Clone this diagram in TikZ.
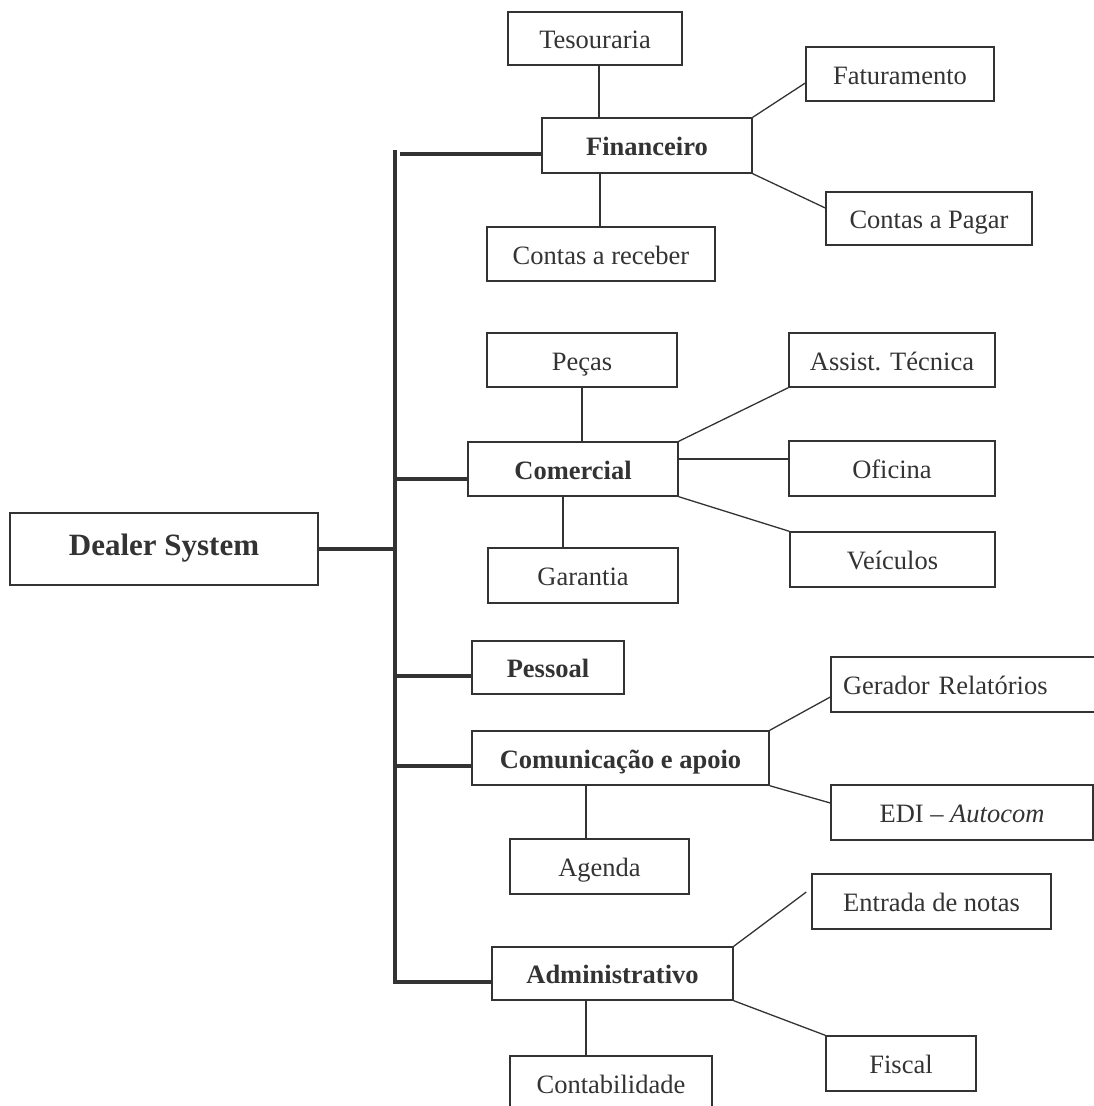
\documentclass[tikz,border=0pt]{standalone}
\usepackage{fontspec}
\setmainfont{Liberation Serif}
\usetikzlibrary{calc}
\definecolor{ink}{HTML}{333333}
\begin{document}
\begin{tikzpicture}[x=1pt,y=-1pt,
  box/.style={draw=ink,line width=1.4pt,inner sep=0pt,text=ink,
    text height=20pt,text depth=0pt,
    font=\fontsize{26.5}{30}\selectfont},
  group/.style={box,font=\fontsize{26.5}{30}\selectfont\bfseries},
  sz/.style 2 args={minimum width=#1pt,minimum height=#2pt},
  thin/.style={draw=ink,line width=1.3pt},
  trunk/.style={draw=ink,line width=4pt,line join=miter}]
\useasboundingbox (0,0) rectangle (1094,1106);
\clip (0,0) rectangle (1094,1106);

% root
\node[group,sz={308}{72},font=\fontsize{31}{36}\selectfont\bfseries,
  text height=18pt,text depth=6pt] (ds) at (164,549) {Dealer System};

% Financeiro
\node[group,sz={210}{55}] (fin) at (647,145.5) {Financeiro};
\node[box,sz={174}{53}] (tes) at (595,38.5) {Tesouraria};
\node[box,sz={228}{54}] (rec) at (601,254) {Contas a receber};
\node[box,sz={188}{54}] (fat) at (900,74) {Faturamento};
\node[box,sz={206}{53}] (pag) at (929,218.5) {Contas a Pagar};

% Comercial
\node[group,sz={210}{54}] (com) at (573,469) {Comercial};
\node[box,sz={190}{54}] (pec) at (582,360) {Peças};
\node[box,sz={190}{55}] (gar) at (583,575.5) {Garantia};
\node[box,sz={206}{54}] (ass) at (892,360) {Assist. Técnica};
\node[box,sz={206}{55}] (ofi) at (892,468.5) {Oficina};
\node[box,sz={205}{55}] (vei) at (892.5,559.5) {Veículos};

% Pessoal
\node[group,sz={152}{53}] (pes) at (548,667.5) {Pessoal};

% Comunicação e apoio
\node[group,sz={297}{54}] (cma) at (620.5,758) {Comunicação e apoio};
\node[box,sz={179}{55}] (age) at (599.5,866.5) {Agenda};
\node[box,sz={279}{55},text width=279pt,align=left] (ger) at (970.5,684.5)
  {\hspace*{12pt}Gerador Relatórios};
\node[box,sz={262}{55}] (edi) at (962,812.5) {EDI -- \textit{Autocom}};

% Administrativo
\node[group,sz={241}{53}] (adm) at (612.5,973.5) {Administrativo};
\node[box,sz={202}{54}] (cnt) at (611,1083) {Contabilidade};
\node[box,sz={239}{55}] (ent) at (931.5,901.5) {Entrada de notas};
\node[box,sz={150}{55}] (fis) at (901,1063.5) {Fiscal};

% trunk and its branches
\coordinate (ttop) at (395,150);
\coordinate (tbot) at (395,982);
\coordinate (b1) at (400,154);
\coordinate (b2) at (395,479);
\coordinate (b3) at (395,676);
\coordinate (b4) at (395,766);
\draw[trunk] (ttop) -- (tbot) -- (tbot -| adm.west);
\draw[trunk] (ds.east) -- (ds.east -| ttop);
\draw[trunk] (b1) -- (b1 -| fin.west);
\draw[trunk] (b2) -- (b2 -| com.west);
\draw[trunk] (b3) -- (b3 -| pes.west);
\draw[trunk] (b4) -- (b4 -| cma.west);

% Financeiro links
\coordinate (f1) at ($(tes.south)+(4,0)$);
\draw[thin] (f1) -- (f1 |- fin.north);
\coordinate (f2) at ($(rec.north)+(-1,0)$);
\draw[thin] (f2) -- (f2 |- fin.south);
\draw[thin] (fin.north east) -- ($(fat.west)+(0,9)$);
\draw[thin] (fin.south east) -- ($(pag.west)+(0,-10.5)$);

% Comercial links
\draw[thin] (pec.south) -- (pec.south |- com.north);
\coordinate (c1) at ($(gar.north)+(-20,0)$);
\draw[thin] (c1) -- (c1 |- com.south);
\draw[thin] (com.north east) -- (ass.south west);
\coordinate (o1) at ($(ofi.west)+(0,-9.5)$);
\draw[thin] (o1) -- (o1 -| com.east);
\draw[thin] (com.south east) -- (vei.north west);

% Comunicação links
\coordinate (a1) at ($(age.north)+(-13.5,0)$);
\draw[thin] (a1) -- (a1 |- cma.south);
\draw[thin] (cma.north east) -- ($(ger.west)+(0,12.5)$);
\draw[thin] (cma.south east) -- ($(edi.west)+(0,-9.5)$);

% Administrativo links
\coordinate (d1) at ($(cnt.north)+(-25,0)$);
\draw[thin] (d1) -- (d1 |- adm.south);
\draw[thin] (adm.north east) -- ($(ent.west)+(-5,-9.5)$);
\draw[thin] (adm.south east) -- (fis.north west);
\end{tikzpicture}
\end{document}
